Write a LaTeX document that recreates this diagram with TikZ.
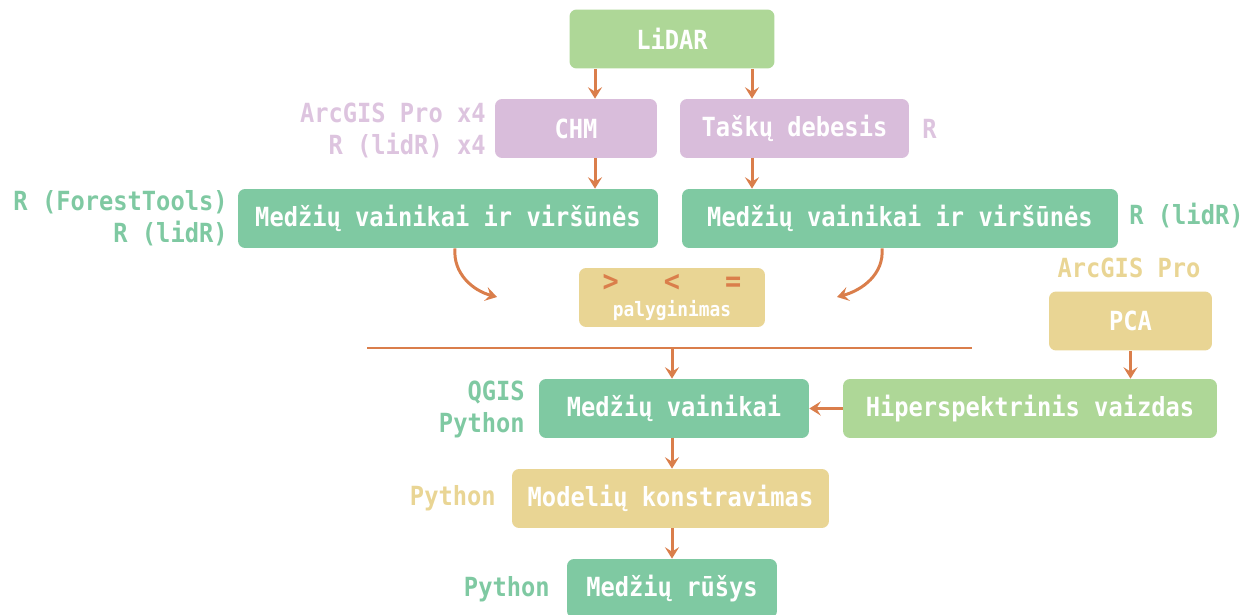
\documentclass[tikz,border=0pt]{standalone}
\usepackage{fontspec}
\setmonofont{DejaVu Sans Mono}[FakeStretch=0.9]
\usepackage{xcolor}
\usepackage{tikz}
\usetikzlibrary{arrows.meta}
\usetikzlibrary{positioning}
\usetikzlibrary{calc}
\definecolor{lgreen}{HTML}{AED797}
\definecolor{tgreen}{HTML}{7FC9A2}
\definecolor{pinkc}{HTML}{D9BDDB}
\definecolor{yellc}{HTML}{E9D594}
\definecolor{arrc}{HTML}{DA7E4B}
\tikzset{
  box/.style = {rounded corners=4pt, text=white, inner sep=0pt,
    font=\ttfamily\bfseries\fontsize{15}{16}\selectfont,
    minimum height=1.18cm},
  box_lg/.style = {box, fill=lgreen},% LiDAR, hiperspektrinis
  box_t/.style = {box, fill=tgreen},% vainikai, rusys
  box_p/.style = {box, fill=pinkc},% CHM, taskai
  box_y/.style = {box, fill=yellc},% PCA, modeliai
  lbl/.style = {inner sep=0pt, align=right,
    font=\ttfamily\bfseries\fontsize{15}{18.2}\selectfont},
  lbl_p/.style = {lbl, text=pinkc!90!white},
  lbl_t/.style = {lbl, text=tgreen},
  lbl_y/.style = {lbl, text=yellc},
  flow/.style = {draw=arrc, line width=1.7pt}
}

\begin{document}
\begin{tikzpicture}[x=0.02cm,y=-0.02cm,->,>={Stealth[length=6.5pt,width=8pt,inset=2.5pt]}]
\useasboundingbox (0,0) rectangle (1254,615);

\node [box_lg, minimum width=4.1cm] (lidar) at (672,39) {LiDAR};
\node [box_p, minimum width=3.24cm] (chm) at (576,128.5) {CHM};
\node [box_p, minimum width=4.58cm] (taskai) at (794.5,128.5) {Taškų debesis};
\node [box_t, minimum width=8.4cm] (mvl) at (448,218.5) {Medžių vainikai ir viršūnės};
\node [box_t, minimum width=8.72cm] (mvr) at (900,218.5) {Medžių vainikai ir viršūnės};
\node [box_y, minimum width=3.72cm, align=center] (palyg) at (672,297.5)
  {\textcolor{arrc}{\fontsize{17}{17}\selectfont >\hspace{0.9cm}<\hspace{0.9cm}=}\\[-2pt]
   {\fontsize{11.3}{12}\selectfont palyginimas}};
\node [box_y, minimum width=3.26cm] (pca) at (1130.5,321) {PCA};
\node [box_lg, minimum width=7.48cm] (hiper) at (1030,408.5) {Hiperspektrinis vaizdas};
\node [box_t, minimum width=5.4cm] (mv) at (674,408.5) {Medžių vainikai};
\node [box_y, minimum width=6.34cm] (model) at (670.5,498.5) {Modelių konstravimas};
\node [box_t, minimum width=4.2cm] (rusys) at (672,588.5) {Medžių rūšys};

% irankiai prie blokeliu
\node [lbl_p, anchor=east] (l_chm) at (486,130) {ArcGIS Pro x4\\R (lidR) x4};
\node [lbl_p, anchor=west] (l_tsk) at (922,129) {R};
\node [lbl_t, anchor=east] (l_mvl) at (228,218) {R (ForestTools)\\R (lidR)};
\node [lbl_t, anchor=west] (l_mvr) at (1129,216) {R (lidR)};
\node [lbl_y] (l_pca) at (1129,268) {ArcGIS Pro};
\node [lbl_t, anchor=east] (l_mv) at (525,409) {QGIS\\Python};
\node [lbl_y, anchor=east] (l_mod) at (496,498) {Python};
\node [lbl_t, anchor=east] (l_rus) at (550,589) {Python};

\coordinate (a1) at (595,0);
\coordinate (a2) at (752,0);
\coordinate (a3) at (672,0);
\coordinate (c1) at (497,297);
\coordinate (c2) at (837,297);
\coordinate (hl) at (367,348);
\coordinate (hr) at (972,348);

\draw[flow] (lidar.south -| a1) -- (chm.north -| a1);
\draw[flow] (lidar.south -| a2) -- (taskai.north -| a2);
\draw[flow] (chm.south -| a1) -- (mvl.north -| a1);
\draw[flow] (taskai.south -| a2) -- (mvr.north -| a2);
\draw[flow] ([xshift=7*0.02cm]mvl.south) to[out=-95,in=165] (c1);
\draw[flow] ([xshift=-18*0.02cm]mvr.south) to[out=-85,in=15] (c2);
\draw[flow,-] (hl) -- (hr);
\draw[flow] (hl -| a3) -- (mv.north -| a3);
\draw[flow] (pca.south) -- (hiper.north -| pca.south);
\draw[flow] (hiper.west) -- (mv.east);
\draw[flow] (mv.south -| a3) -- (model.north -| a3);
\draw[flow] (model.south -| a3) -- (rusys.north -| a3);
\end{tikzpicture}
\end{document}
